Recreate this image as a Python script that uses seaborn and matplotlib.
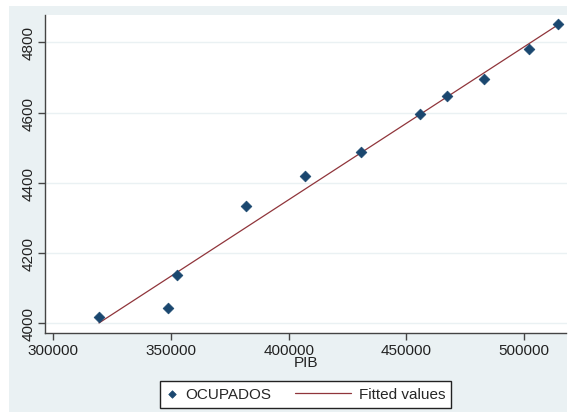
import numpy as np
import pandas as pd
import seaborn as sns
import matplotlib.pyplot as plt
from matplotlib.patches import Rectangle
from matplotlib.collections import PathCollection
from matplotlib.lines import Line2D
from matplotlib.legend_handler import HandlerPathCollection, HandlerLine2D

# values
pib = [319500, 348900, 352500, 382000, 407000, 430800, 455900, 467000, 482700, 501900, 514400]
ocupados = [4018, 4044, 4138, 4334, 4420, 4488, 4596, 4646, 4696, 4781, 4853]
xticks = [300000, 350000, 400000, 450000, 500000]
yticks = [4000, 4200, 4400, 4600, 4800]

data = pd.DataFrame({'PIB': pib, 'OCUPADOS': ocupados})

sns.set_theme(style='white')
plt.rcParams['font.family'] = ['Liberation Sans', 'DejaVu Sans']

bg = '#eaf1f3'
fig = plt.figure(figsize=(5.68, 4.14), dpi=100)
fig.patch.set_facecolor('white')
fig.patches.append(Rectangle((9/568, 1/414), 558/568, 406/414, transform=fig.transFigure,
                             facecolor=bg, edgecolor='none', zorder=-5))

ax = fig.add_axes([45/568, 80/414, 521.5/568, 318.3/414])
ax.set_facecolor('white')

# fitted values
sns.regplot(x='PIB', y='OCUPADOS', data=data, scatter=False, ci=None, truncate=True,
            label='Fitted values', line_kws={'color': '#90353b', 'lw': 0.9}, ax=ax)
sns.scatterplot(x='PIB', y='OCUPADOS', data=data, marker='D', s=30, color='#1a476f',
                edgecolor='#1a476f', linewidth=0.5, label='OCUPADOS', ax=ax, zorder=3)

ax.set_xlim(296600, 517900)
ax.set_ylim(3972, 4879)
ax.set_xticks(xticks)
ax.set_yticks(yticks)
ax.set_xticklabels([str(v) for v in xticks], fontsize=11, color='#222222')
ax.set_yticklabels([str(v) for v in yticks], fontsize=11, color='#222222', rotation=90, va='center')
ax.tick_params(axis='both', direction='out', length=5, width=1, color='#444444', pad=2,
               bottom=True, left=True)
ax.yaxis.grid(True, color=bg, lw=1)
ax.set_axisbelow(True)
for s in ['top', 'right']:
    ax.spines[s].set_visible(False)
for s in ['left', 'bottom']:
    ax.spines[s].set_color('#444444')
    ax.spines[s].set_linewidth(1)

ax.set_xlabel('PIB', fontsize=11, color='#222222', labelpad=-1)
ax.set_ylabel('')


# stata-like keys: short marker key, long line key reaching to the left
class MarkerKey(HandlerPathCollection):
    def get_xdata(self, legend, xdescent, ydescent, width, height, fontsize):
        return [-xdescent + 0.5 * width], [-xdescent + 0.5 * width]


class LongLineKey(HandlerLine2D):
    def get_xdata(self, legend, xdescent, ydescent, width, height, fontsize):
        x0 = -xdescent - 2.9 * fontsize
        return [x0, width - xdescent], [x0, width - xdescent]


h, l = ax.get_legend_handles_labels()
order = [l.index('OCUPADOS'), l.index('Fitted values')]
if ax.get_legend():
    ax.get_legend().remove()
leg = fig.legend([h[i] for i in order], [l[i] for i in order], loc='center',
                 bbox_to_anchor=(305.5/568, 18.5/414), ncol=2, fontsize=11, frameon=True,
                 fancybox=False, edgecolor='#222222', framealpha=1, handlelength=0.8,
                 handletextpad=0.5, columnspacing=4.4, borderpad=0.4, markerscale=0.7,
                 handler_map={PathCollection: MarkerKey(), Line2D: LongLineKey()})
leg.get_frame().set_linewidth(1)

fig.savefig('out.png', dpi=100)
